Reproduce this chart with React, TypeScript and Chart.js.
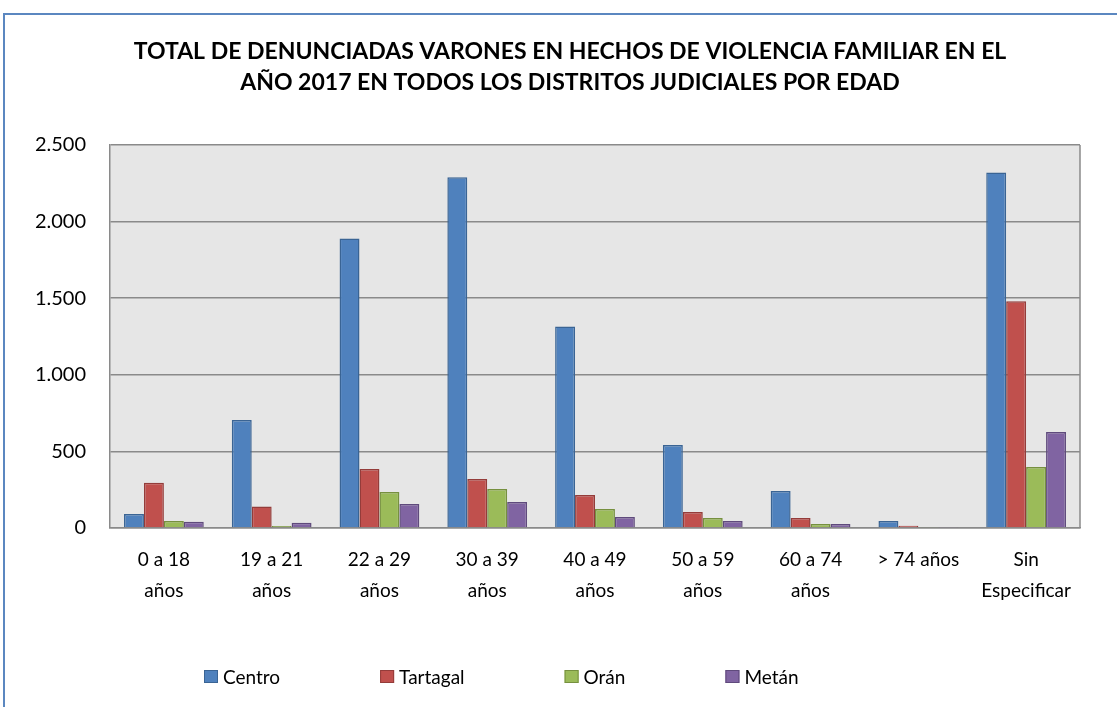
import React, { useEffect, useRef } from "react";
import { Chart, registerables } from "chart.js";
Chart.register(...registerables);

const categories: (string | string[])[] = [
  ["0 a 18", "años"],
  ["19 a 21", "años"],
  ["22 a 29", "años"],
  ["30 a 39", "años"],
  ["40 a 49", "años"],
  ["50 a 59", "años"],
  ["60 a 74", "años"],
  "> 74 años",
  ["Sin", "Especificar"],
];
const seriesNames = ["Centro", "Tartagal", "Orán", "Metán"];
const centro = [91, 705, 1890, 2290, 1315, 542, 241, 46, 2320];
const tartagal = [295, 140, 385, 320, 215, 104, 65, 15, 1480];
const oran = [46, 13, 235, 255, 124, 65, 26, 4, 398];
const metan = [40, 35, 157, 170, 72, 46, 26, 3, 627];
const fills = ["#4f81bd", "#c0504d", "#9bbb59", "#8064a2"];
const borders = ["#3a6494", "#943c3a", "#76903f", "#5f4a7c"];
const yMin = 0;
const yMax = 2500;
const yStep = 500;
const titleLines = [
  "TOTAL DE DENUNCIADAS VARONES EN HECHOS DE VIOLENCIA FAMILIAR EN EL",
  "AÑO 2017 EN TODOS LOS DISTRITOS JUDICIALES POR EDAD",
];

const FONT = "Lato, 'Open Sans', sans-serif";

const plotBg = {
  id: "plotBg",
  beforeDraw(chart: any) {
    const { ctx, chartArea: a } = chart;
    ctx.save();
    ctx.fillStyle = "#e6e6e6";
    ctx.fillRect(a.left, a.top, a.right - a.left, a.bottom - a.top);
    ctx.restore();
  },
  afterDatasetsDraw(chart: any) {
    const { ctx, chartArea: a } = chart;
    ctx.save();
    ctx.strokeStyle = "#8a8a8a";
    ctx.lineWidth = 1.5;
    ctx.beginPath();
    ctx.moveTo(a.right, a.top);
    ctx.lineTo(a.right, a.bottom);
    ctx.stroke();
    ctx.restore();
  },
};

const customTitle = {
  id: "customTitle",
  afterDraw(chart: any) {
    const { ctx } = chart;
    ctx.save();
    ctx.font = `bold 23px ${FONT}`;
    ctx.fillStyle = "#000";
    ctx.textAlign = "center";
    ctx.textBaseline = "middle";
    titleLines.forEach((line, i) => {
      ctx.fillText(line, 570, 52 + i * 31);
    });
    ctx.restore();
  },
};

const customLegend = {
  id: "customLegend",
  afterDraw(chart: any) {
    const { ctx } = chart;
    ctx.save();
    ctx.font = `19px ${FONT}`;
    ctx.textBaseline = "middle";
    let x = 204;
    const y = 677;
    chart.data.datasets.forEach((ds: any) => {
      ctx.fillStyle = ds.backgroundColor;
      ctx.fillRect(x, y - 7, 14, 13);
      ctx.strokeStyle = ds.borderColor;
      ctx.lineWidth = 1;
      ctx.strokeRect(x + 0.5, y - 6.5, 13, 12);
      ctx.fillStyle = "#000";
      ctx.fillText(ds.label, x + 19, y + 1);
      const w = ctx.measureText(ds.label).width;
      x += 19 + w + 100;
    });
    ctx.restore();
  },
};

export default function App() {
  const ref = useRef<HTMLCanvasElement>(null);
  useEffect(() => {
    const series = [centro, tartagal, oran, metan];
    const chart = new Chart(ref.current!, {
      type: "bar",
      data: {
        labels: categories,
        datasets: series.map((d, i) => ({
          label: seriesNames[i],
          data: d,
          backgroundColor: fills[i],
          borderColor: borders[i],
          borderWidth: 1.5,
          categoryPercentage: 0.74,
          barPercentage: 1,
        })),
      },
      options: {
        animation: false,
        responsive: false,
        maintainAspectRatio: false,
        layout: { padding: { left: 0, right: 37, top: 145, bottom: 77 } },
        plugins: {
          legend: { display: false },
          tooltip: { enabled: false },
          title: { display: false },
        },
        scales: {
          x: {
            grid: { display: false, drawTicks: false },
            border: { display: true, color: "#8a8a8a", width: 1.5 },
            ticks: {
              color: "#000",
              font: { family: FONT, size: 19, lineHeight: 1.6 },
              padding: 17,
              maxRotation: 0,
              autoSkip: false,
            },
            afterFit(scale: any) {
              scale.height = 102;
            },
          },
          y: {
            min: yMin,
            max: yMax,
            ticks: {
              stepSize: yStep,
              color: "#000",
              font: { family: FONT, size: 20 },
              padding: 24,
              callback: (v: any) =>
                String(v).replace(/\B(?=(\d{3})+(?!\d))/g, "."),
            },
            grid: { color: "#8a8a8a", lineWidth: 1.5, drawTicks: false },
            border: { display: true, color: "#8a8a8a", width: 1.5 },
            afterFit(scale: any) {
              scale.width = 110;
            },
          },
        },
      },
      plugins: [plotBg, customTitle, customLegend],
    });
    return () => chart.destroy();
  }, []);
  return (
    <div style={{ position: "fixed", left: 0, top: 0, width: 1117, height: 707, background: "#fff", overflow: "hidden" }}>
      <canvas ref={ref} width={1117} height={707} style={{ position: "absolute", left: 0, top: 0 }} />
      <div
        style={{
          position: "absolute",
          left: 3,
          top: 13,
          width: 1130,
          height: 720,
          border: "2px solid #5b87c0",
          boxSizing: "border-box",
          pointerEvents: "none",
        }}
      />
    </div>
  );
}
